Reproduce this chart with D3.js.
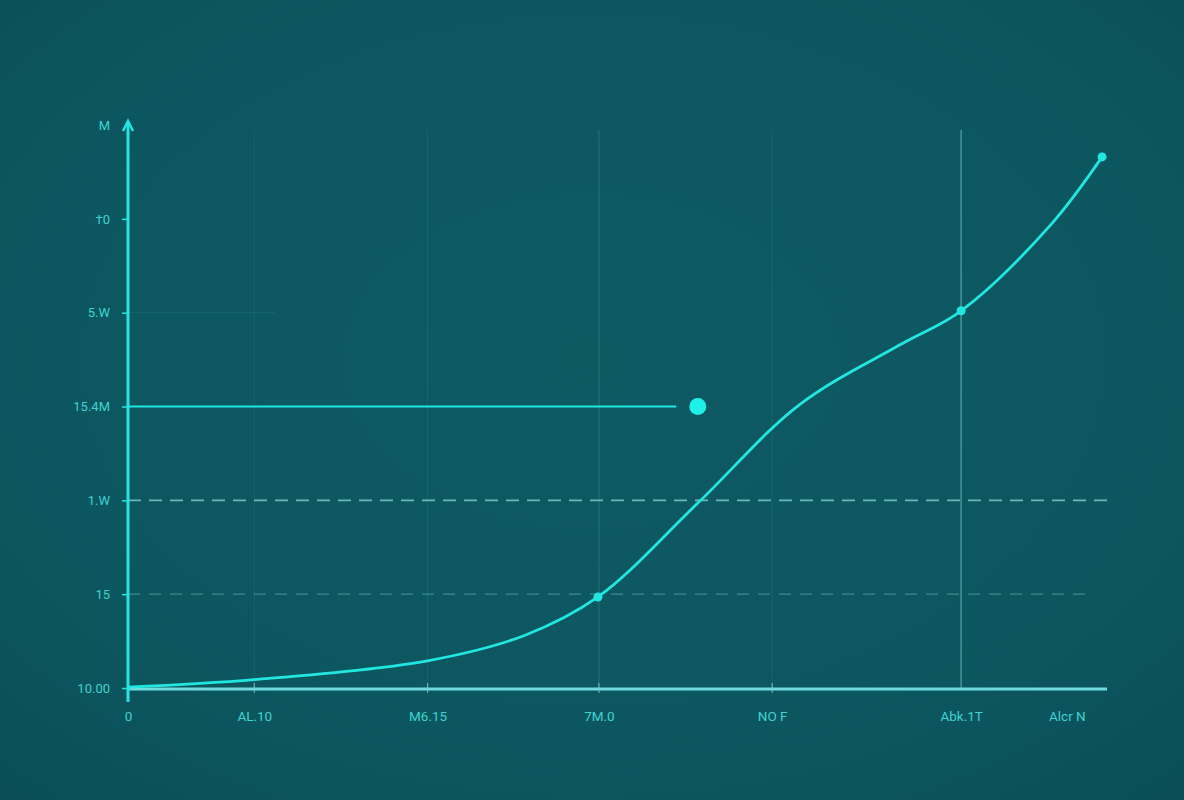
<!DOCTYPE html>
<html>
<head>
<meta charset="utf-8">
<script src="https://cdn.jsdelivr.net/npm/d3@7/dist/d3.min.js"></script>
<style>
  html, body { margin: 0; padding: 0; background: #0c5660; }
  svg { display: block; }
</style>
</head>
<body>
<svg id="chart" width="1184" height="800"></svg>
<script>
// ---- data ----
const xTickValues = [0, 12.9, 30.6, 48.1, 65.8, 85.1, 95.9];
const xTickLabels = ["0", "AL.10", "M6.15", "7M.0", "NO F", "Abk.1T", "Alcr N"];
const yTickValues = [0, 1, 2, 3, 4, 5, 6];
const yTickLabels = ["10.00", "15", "1.W", "15.4M", "5.W", "\u20200", "M"];

const curveX = [0, 12.9, 30.6, 40.5, 48.0, 58.1, 68.6, 78.9, 85.1, 94.2, 99.5];
const curveY = [0.01, 0.09, 0.29, 0.56, 0.97, 1.96, 3.02, 3.66, 4.02, 4.93, 5.66];
const markerX = [48.0, 85.1, 99.5];
const markerY = [0.97, 4.02, 5.66];
const highlightX = [58.2];
const highlightY = [3];
const refLineEndX = 56.0;   // solid reference at 15.4M
const refLineY = 3;
const dashedLevels = [2, 1];
const vGrid = [12.9, 30.6, 48.1, 65.8, 85.1];

(function () {
// ---- layout ----
const svg = d3.select("#chart");
const mLeft = 128, mRight = 1107, mTop = 125, mBottom = 688;
const x = d3.scaleLinear().domain([0, 100]).range([mLeft, mRight]);
const y = d3.scaleLinear().domain([0, 6]).range([mBottom, mTop]);

// background vignette
const defs = svg.append("defs");
const rg = defs.append("radialGradient").attr("id", "bg").attr("cx", "50%").attr("cy", "45%").attr("r", "75%");
rg.append("stop").attr("offset", "0%").attr("stop-color", "#0e5a63");
rg.append("stop").attr("offset", "70%").attr("stop-color", "#0c5660");
rg.append("stop").attr("offset", "100%").attr("stop-color", "#0a4d57");
svg.append("rect").attr("width", 1184).attr("height", 800).attr("fill", "url(#bg)");

const cyan = "#22e6e0";
const textCol = "#3fd3cf";
const font = "Roboto, 'Open Sans', sans-serif";

// faint vertical grid
const vOpacity = [0.12, 0.12, 0.25, 0.12, 0.55];
svg.append("g").selectAll("line").data(vGrid).join("line")
  .attr("x1", d => x(d)).attr("x2", d => x(d))
  .attr("y1", 130).attr("y2", mBottom)
  .attr("stroke", "#6fc4c6")
  .attr("stroke-width", (d, i) => i === 4 ? 1.6 : 1)
  .attr("stroke-opacity", (d, i) => vOpacity[i]);

// faint horizontal grid at 5.W
svg.append("line")
  .attr("x1", mLeft).attr("x2", x(15)).attr("y1", y(4)).attr("y2", y(4))
  .attr("stroke", "#6fc4c6").attr("stroke-opacity", 0.12);

// dashed reference lines
svg.append("g").selectAll("line").data(dashedLevels).join("line")
  .attr("x1", mLeft).attr("x2", (d) => d === 2 ? mRight : x(98.3))
  .attr("y1", d => y(d)).attr("y2", d => y(d))
  .attr("stroke", "#7cc9ca")
  .attr("stroke-width", d => d === 2 ? 1.8 : 1.2)
  .attr("stroke-opacity", d => d === 2 ? 0.85 : 0.45)
  .attr("stroke-dasharray", d => d === 2 ? "13,8" : "12,9");

// solid reference line at 15.4M
svg.append("line")
  .attr("x1", mLeft).attr("x2", x(refLineEndX))
  .attr("y1", y(refLineY)).attr("y2", y(refLineY))
  .attr("stroke", cyan).attr("stroke-width", 2);

// axes
const xAxis = d3.axisBottom(x).tickValues(xTickValues)
  .tickFormat((d, i) => xTickLabels[i]).tickSize(0).tickPadding(22);
const gx = svg.append("g").attr("transform", `translate(0,${mBottom + 1})`).call(xAxis);
gx.select(".domain").remove();
gx.selectAll("text").attr("fill", textCol).attr("font-family", font).attr("font-size", 13.5);
gx.append("line").attr("x1", mLeft).attr("x2", mRight).attr("y1", 0).attr("y2", 0)
  .attr("stroke", "#6fdbe0").attr("stroke-width", 3);
gx.append("g").selectAll("line").data(xTickValues.slice(1, 5)).join("line")
  .attr("x1", d => x(d)).attr("x2", d => x(d)).attr("y1", -6).attr("y2", 4)
  .attr("stroke", "#7cc9ca").attr("stroke-width", 1.2).attr("stroke-opacity", 0.8);

const yAxis = d3.axisLeft(y).tickValues(yTickValues)
  .tickFormat((d, i) => yTickLabels[i]).tickSize(6).tickPadding(12);
const gy = svg.append("g").attr("transform", `translate(${mLeft},0)`).call(yAxis);
gy.select(".domain").remove();
gy.selectAll(".tick line").attr("stroke", cyan).attr("stroke-width", 1.5)
  .filter(d => d === 6).remove();
gy.selectAll("text").attr("fill", textCol).attr("font-family", font).attr("font-size", 13);
gy.append("line").attr("x1", 0).attr("x2", 0).attr("y1", mBottom + 14).attr("y2", mTop - 2)
  .attr("stroke", cyan).attr("stroke-width", 3);
gy.append("path").attr("d", `M-5,${mTop + 6} L0,${mTop - 4} L5,${mTop + 6}`)
  .attr("fill", "none").attr("stroke", cyan).attr("stroke-width", 2.5);

// main curve
const pts = curveX.map((d, i) => [d, curveY[i]]);
svg.append("path").datum(pts)
  .attr("d", d3.line().x(d => x(d[0])).y(d => y(d[1])).curve(d3.curveCatmullRom.alpha(0.5)))
  .attr("fill", "none").attr("stroke", cyan).attr("stroke-width", 2.8);

// markers
svg.append("g").selectAll("circle").data(markerX).join("circle")
  .attr("cx", d => x(d)).attr("cy", (d, i) => y(markerY[i])).attr("r", 4.5)
  .attr("fill", cyan);

svg.append("g").selectAll("circle").data(highlightX).join("circle")
  .attr("cx", d => x(d)).attr("cy", (d, i) => y(highlightY[i])).attr("r", 8.5)
  .attr("fill", "#1ff0e8");
})();
</script>
</body>
</html>
